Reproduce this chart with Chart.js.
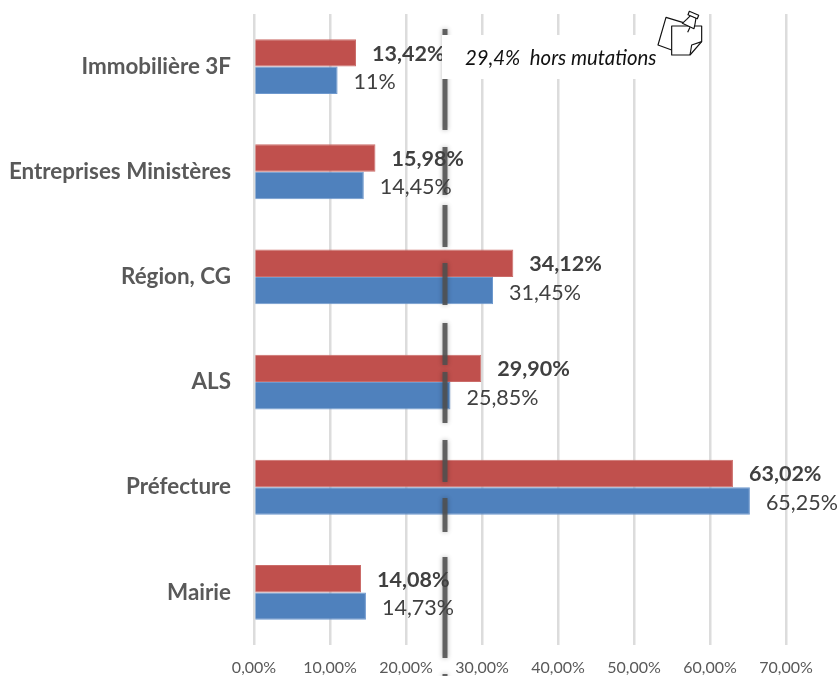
<!DOCTYPE html>
<html><head><meta charset="utf-8">
<style>html,body{margin:0;padding:0;background:#fff}canvas{display:block}</style>
<script src="https://cdn.jsdelivr.net/npm/chart.js@4"></script>
</head><body><canvas id="c" width="839" height="676"></canvas>
<script>
const categories = ["Immobilière 3F","Entreprises Ministères","Région, CG","ALS","Préfecture","Mairie"];
const redValues = [13.42,15.98,34.12,29.90,63.02,14.08];
const blueValues = [11,14.45,31.45,25.85,65.25,14.73];
const redLabels = ["13,42%","15,98%","34,12%","29,90%","63,02%","14,08%"];
const blueLabels = ["11%","14,45%","31,45%","25,85%","65,25%","14,73%"];
const referenceValue = 25;
const noteText = "29,4%  hors mutations";
const FONT = "Lato, Carlito, sans-serif";

const overlay = {
  id:'overlay',
  afterDatasetsDraw(chart){
    const {ctx,scales:{x}} = chart;
    const lx = x.getPixelForValue(referenceValue);
    const dashes = [[29,130],[147,195],[205,247],[263,305],[323,365],[372,423],[440,482],[498,532],[557,658],[674,680]];
    ctx.save();
    ctx.strokeStyle='rgba(80,80,80,0.88)';
    ctx.lineWidth=5;
    ctx.shadowColor='rgba(0,0,0,0.35)';
    ctx.shadowBlur=5;
    dashes.forEach(([a,b])=>{ctx.beginPath();ctx.moveTo(lx+1,a);ctx.lineTo(lx+1,b);ctx.stroke();});
    ctx.restore();
    // value labels
    ctx.save();
    ctx.textBaseline='middle';ctx.textAlign='left';
    ctx.fillStyle='#404040';
    const m0=chart.getDatasetMeta(0).data, m1=chart.getDatasetMeta(1).data;
    m0.forEach((b,i)=>{ctx.font='bold 21.5px '+FONT;ctx.fillText(redLabels[i],b.x+16,b.y+1);});
    m1.forEach((b,i)=>{ctx.font='21.5px '+FONT;ctx.fillText(blueLabels[i],b.x+16,b.y+2);});
    ctx.restore();
    // note box
    ctx.save();
    ctx.fillStyle='#fff';ctx.fillRect(442,35,218,44);
    ctx.fillStyle='#111';ctx.font='italic 20.4px '+FONT;
    ctx.textBaseline='middle';ctx.textAlign='left';
    ctx.fillText(noteText,465,58);
    ctx.restore();
    // pinned-note icon
    ctx.save();
    ctx.translate(420,0);ctx.scale(1/3,1/3);
    ctx.strokeStyle='#111';ctx.lineWidth=3.5;ctx.lineJoin='round';
    ctx.fillStyle='#fff';
    const path=(pts,close)=>{ctx.beginPath();pts.forEach((p,i)=>i?ctx.lineTo(p[0],p[1]):ctx.moveTo(p[0],p[1]));if(close)ctx.closePath();};
    path([[790,68],[738,52],[714,135],[755,150]]);ctx.stroke();
    path([[755,78],[845,78],[845,125],[810,165],[755,165]],true);ctx.fill();ctx.stroke();
    path([[845,125],[815,135],[810,165]]);ctx.stroke();
    path([[803,97],[810,82]]);ctx.stroke();
    path([[787,70],[800,58],[812,46],[828,54],[825,72],[822,86]],true);ctx.fill();ctx.stroke();
    path([[808,34],[836,46],[832,56],[804,44]],true);ctx.fill();ctx.stroke();
    ctx.restore();
  }
};

new Chart(document.getElementById('c'),{
  type:'bar',
  data:{labels:categories,datasets:[
    {label:'Série 1',data:redValues,backgroundColor:'#C0504D',borderColor:'#CB6C69',borderWidth:1},
    {label:'Série 2',data:blueValues,backgroundColor:'#4F81BD',borderColor:'#6F99CE',borderWidth:1}
  ]},
  options:{
    indexAxis:'y',responsive:false,animation:false,
    categoryPercentage:0.522,barPercentage:1,
    layout:{padding:{top:14,right:53,left:0,bottom:0}},
    plugins:{legend:{display:false},tooltip:{enabled:false}},
    scales:{
      x:{min:0,max:70,
        afterFit(s){s.height=31;s.paddingLeft=0;s.paddingRight=0;},
        border:{display:false},
        grid:{color:'#dcdcdc',lineWidth:2.5,drawTicks:false},
        ticks:{stepSize:10,padding:13,maxRotation:0,color:'#595959',font:{family:FONT,size:16},
          callback:v=>v.toFixed(2).replace('.',',')+'%'}},
      y:{
        afterFit(s){s.width=254;s.paddingTop=0;s.paddingBottom=0;},
        border:{display:false},
        grid:{display:false,drawTicks:false},
        ticks:{padding:23,color:'#595959',font:{family:FONT,size:22.4,weight:'bold'}}}
    }
  },
  plugins:[overlay]
});
</script></body></html>
